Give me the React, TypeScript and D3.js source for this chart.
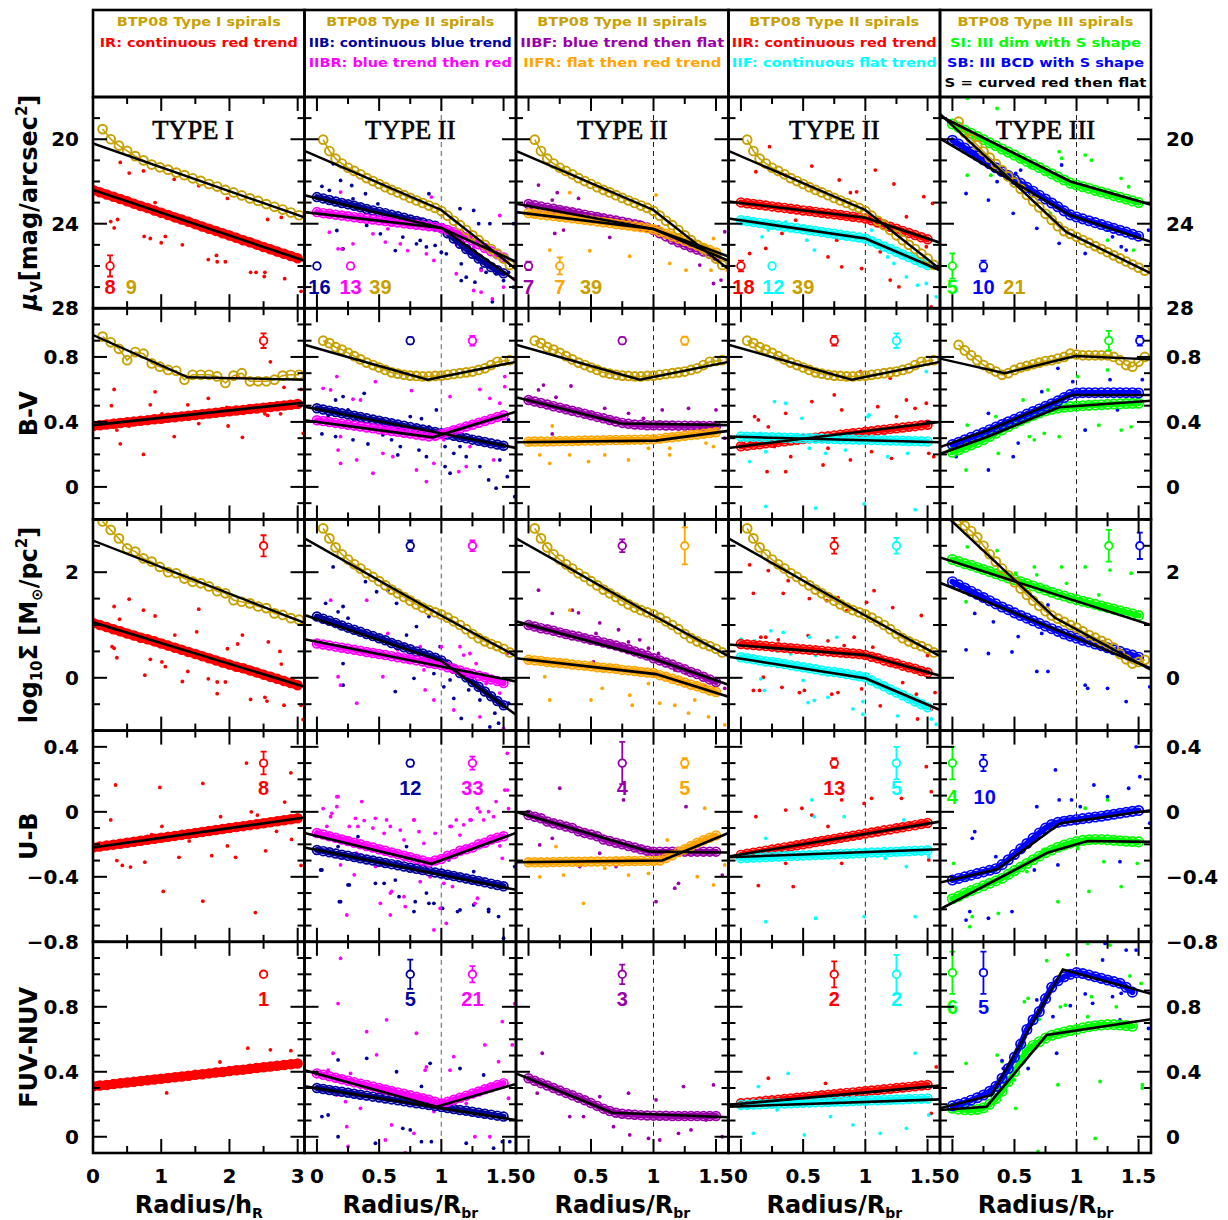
import React from 'react';
import * as d3 from 'd3';

type P = [number, number];

const RED = '#ff0000';
const NAVY = '#00009c';
const MAG = '#ff00ff';
const PURPLE = '#9a00aa';
const ORANGE = '#ffa500';
const CYAN = '#00ffff';
const GREEN = '#00ff00';
const BLUE = '#0000ff';
const GOLD = '#c8a000';

const W = 1228;
const H = 1220;
const colX = [93, 304.5, 516, 728.5, 940, 1151];
const rowY = [97, 308.2, 519.4, 730.6, 941.8, 1153];
const HEAD_TOP = 10;

const xDomI: [number, number] = [0, 3.1];
const xDomII: [number, number] = [-0.1, 1.6];
const yDoms: [number, number][] = [[28, 18], [-0.2, 1.1], [-1, 3], [-0.8, 0.5], [-0.1, 1.2]];
const yTickVals = [[20, 24, 28], [0, 0.4, 0.8], [0, 2], [-0.8, -0.4, 0, 0.4], [0, 0.4, 0.8]];
const yMinorStep = [1, 0.1, 0.5, 0.1, 0.1];
const xTicksI = [0, 1, 2, 3];
const xTicksII = [0, 0.5, 1, 1.5];

// radius grids of the profiles
const gridI = [0, 0.1, 0.2, 0.3, 0.4, 0.5, 0.6, 0.7, 0.8, 0.9, 1, 1.1, 1.2, 1.3, 1.4, 1.5, 1.6, 1.7, 1.8, 1.9, 2, 2.1, 2.2, 2.3, 2.4, 2.5, 2.6, 2.7, 2.8, 2.9, 3];
const gridGoldI = [0.14, 0.26, 0.38, 0.5, 0.62, 0.74, 0.86, 0.98, 1.1, 1.22, 1.34, 1.46, 1.58, 1.7, 1.82, 1.94, 2.06, 2.18, 2.3, 2.42, 2.54, 2.66, 2.78, 2.9, 3.02];
const gridII = [0, 0.05, 0.1, 0.15, 0.2, 0.25, 0.3, 0.35, 0.4, 0.45, 0.5, 0.55, 0.6, 0.65, 0.7, 0.75, 0.8, 0.85, 0.9, 0.95, 1, 1.05, 1.1, 1.15, 1.2, 1.25, 1.3, 1.35, 1.4, 1.45, 1.5];
const gridGold = [0.05, 0.1, 0.15, 0.2, 0.25, 0.3, 0.35, 0.4, 0.45, 0.5, 0.55, 0.6, 0.65, 0.7, 0.75, 0.8, 0.85, 0.9, 0.95, 1, 1.05, 1.1, 1.15, 1.2, 1.25, 1.3, 1.35, 1.4, 1.45, 1.5, 1.55];

// BTP08 mean profiles (gold)
const muGoldI = [19.52, 20.0, 20.3, 20.55, 20.8, 21.0, 21.2, 21.33, 21.44, 21.58, 21.7, 21.85, 21.97, 22.12, 22.24, 22.4, 22.52, 22.66, 22.8, 22.92, 23.07, 23.2, 23.33, 23.47, 23.6];
const bvGoldI = [0.925, 0.89, 0.85, 0.78, 0.83, 0.82, 0.76, 0.74, 0.72, 0.715, 0.66, 0.69, 0.69, 0.69, 0.68, 0.64, 0.685, 0.7, 0.65, 0.65, 0.65, 0.66, 0.685, 0.69, 0.69];
const sdGoldI = [2.96, 2.8, 2.64, 2.45, 2.39, 2.26, 2.2, 2.1, 2.0, 1.98, 1.88, 1.82, 1.79, 1.73, 1.64, 1.6, 1.47, 1.44, 1.41, 1.35, 1.32, 1.22, 1.19, 1.13, 1.1];
const muGoldII = [20.02, 20.56, 20.92, 21.15, 21.35, 21.5, 21.66, 21.84, 21.98, 22.12, 22.27, 22.4, 22.52, 22.65, 22.78, 22.9, 23.02, 23.14, 23.25, 23.4, 23.62, 23.86, 24.07, 24.3, 24.55, 24.78, 25.0, 25.2, 25.42, 25.65, 25.95];
const bvGoldII = [0.9, 0.885, 0.86, 0.845, 0.825, 0.805, 0.785, 0.765, 0.75, 0.735, 0.72, 0.705, 0.697, 0.69, 0.685, 0.683, 0.68, 0.68, 0.683, 0.685, 0.69, 0.695, 0.7, 0.705, 0.71, 0.72, 0.73, 0.75, 0.77, 0.775, 0.78];
const sdGoldII = [2.83, 2.64, 2.47, 2.34, 2.24, 2.15, 2.07, 1.98, 1.91, 1.83, 1.75, 1.67, 1.6, 1.53, 1.46, 1.39, 1.33, 1.28, 1.24, 1.2, 1.14, 1.07, 1.0, 0.92, 0.83, 0.75, 0.69, 0.64, 0.6, 0.55, 0.48];
const muGoldIII = [19.17, 19.69, 19.99, 20.28, 20.58, 20.87, 21.17, 21.46, 21.76, 22.05, 22.35, 22.64, 22.94, 23.23, 23.53, 23.82, 24.12, 24.35, 24.48, 24.62, 24.77, 24.91, 25.06, 25.2, 25.35, 25.5, 25.64, 25.79, 25.93, 26.08, 26.22];
const bvGoldIII = [0.874, 0.84, 0.81, 0.78, 0.75, 0.73, 0.71, 0.69, 0.7, 0.72, 0.735, 0.745, 0.755, 0.765, 0.775, 0.78, 0.79, 0.8, 0.82, 0.815, 0.81, 0.81, 0.81, 0.81, 0.81, 0.8, 0.78, 0.75, 0.74, 0.77, 0.8];
const sdGoldIII = [2.98, 2.88, 2.78, 2.66, 2.5, 2.34, 2.2, 2.07, 1.94, 1.81, 1.69, 1.57, 1.46, 1.36, 1.26, 1.18, 1.12, 1.06, 1.0, 0.95, 0.88, 0.81, 0.76, 0.7, 0.65, 0.57, 0.45, 0.35, 0.27, 0.3, 0.34];

const fitMuGoldI: P[] = [[0, 20.2], [3.1, 23.7]];
const fitBvGoldI: P[] = [[0, 0.935], [1.39, 0.675], [3.1, 0.66]];
const fitSdGoldI: P[] = [[0, 2.6], [3.1, 1.04]];
const fitMuGoldII: P[] = [[-0.1, 20.55], [1.0, 23.35], [1.6, 26.15]];
const fitBvGoldII: P[] = [[-0.1, 0.875], [0.89, 0.66], [1.6, 0.77]];
const fitSdGoldII: P[] = [[-0.1, 2.64], [0.99, 1.19], [1.6, 0.41]];
const fitMuGoldIII: P[] = [[-0.1, 18.8], [0.92, 24.4], [1.6, 26.35]];
const fitBvGoldIII: P[] = [[-0.1, 0.79], [0.42, 0.7], [0.99, 0.806], [1.6, 0.785]];
const fitSdGoldIII: P[] = [[-0.02, 3.0], [0.83, 1.13], [1.6, 0.15]];

// Type I (IR) profiles
const muIR = [22.4, 22.51, 22.62, 22.72, 22.83, 22.94, 23.05, 23.16, 23.26, 23.37, 23.48, 23.59, 23.7, 23.8, 23.91, 24.02, 24.13, 24.24, 24.34, 24.45, 24.56, 24.67, 24.78, 24.88, 24.99, 25.1, 25.21, 25.32, 25.42, 25.53, 25.64];
const bvIR = [0.375, 0.38, 0.384, 0.389, 0.393, 0.398, 0.402, 0.407, 0.411, 0.416, 0.42, 0.425, 0.429, 0.434, 0.438, 0.443, 0.447, 0.452, 0.456, 0.461, 0.465, 0.47, 0.474, 0.479, 0.483, 0.488, 0.492, 0.497, 0.501, 0.506, 0.51];
const sdIR = [1.04, 1.0, 0.96, 0.92, 0.88, 0.84, 0.8, 0.76, 0.73, 0.69, 0.65, 0.61, 0.57, 0.53, 0.49, 0.45, 0.41, 0.37, 0.33, 0.29, 0.25, 0.21, 0.18, 0.14, 0.1, 0.06, 0.02, -0.02, -0.06, -0.1, -0.14];
const ubIR = [-0.22, -0.214, -0.208, -0.202, -0.196, -0.19, -0.184, -0.178, -0.172, -0.166, -0.16, -0.154, -0.148, -0.142, -0.136, -0.13, -0.124, -0.118, -0.112, -0.106, -0.1, -0.094, -0.088, -0.082, -0.076, -0.07, -0.064, -0.058, -0.052, -0.046, -0.04];
const fnIR = [0.31, 0.315, 0.319, 0.324, 0.329, 0.334, 0.338, 0.343, 0.348, 0.352, 0.357, 0.362, 0.366, 0.371, 0.376, 0.381, 0.385, 0.39, 0.395, 0.399, 0.404, 0.409, 0.413, 0.418, 0.423, 0.428, 0.432, 0.437, 0.442, 0.446, 0.451];
const fitMuIR: P[] = [[0, 22.4], [3.1, 25.75]];
const fitBvIR: P[] = [[0, 0.38], [3.1, 0.52]];
const fitSdIR: P[] = [[0, 1.05], [3.1, -0.17]];
const fitUbIR: P[] = [[0, -0.22], [3.1, -0.035]];

// Type II / III profiles (radius / R_br)
const muIIB = [22.74, 22.8, 22.88, 22.95, 23.02, 23.08, 23.15, 23.22, 23.3, 23.37, 23.44, 23.5, 23.58, 23.65, 23.72, 23.8, 23.87, 23.94, 24.02, 24.1, 24.2, 24.45, 24.7, 24.95, 25.2, 25.42, 25.65, 25.85, 26.05, 26.2, 26.35];
const muIIBR = [23.45, 23.5, 23.53, 23.57, 23.61, 23.65, 23.69, 23.73, 23.77, 23.8, 23.84, 23.87, 23.91, 23.94, 23.98, 24.01, 24.05, 24.08, 24.12, 24.15, 24.2, 24.3, 24.4, 24.5, 24.65, 24.8, 24.97, 25.15, 25.3, 25.45, 25.6];
const muIIBF = [23.07, 23.13, 23.18, 23.24, 23.29, 23.35, 23.41, 23.46, 23.52, 23.57, 23.63, 23.68, 23.74, 23.8, 23.85, 23.91, 23.97, 24.03, 24.1, 24.18, 24.3, 24.45, 24.6, 24.75, 24.88, 25.0, 25.12, 25.22, 25.32, 25.42, 25.52];
const muIIFR = [23.5, 23.53, 23.57, 23.6, 23.64, 23.67, 23.71, 23.74, 23.78, 23.81, 23.85, 23.89, 23.93, 23.97, 24.01, 24.05, 24.09, 24.13, 24.17, 24.21, 24.26, 24.37, 24.48, 24.59, 24.7, 24.81, 24.92, 25.03, 25.14, 25.25, 25.36];
const muIIR = [22.99, 23.03, 23.07, 23.1, 23.14, 23.18, 23.22, 23.25, 23.29, 23.33, 23.37, 23.4, 23.44, 23.48, 23.52, 23.55, 23.59, 23.63, 23.67, 23.7, 23.75, 23.84, 23.94, 24.04, 24.14, 24.24, 24.34, 24.44, 24.54, 24.64, 24.74];
const muIIF = [23.83, 23.87, 23.92, 23.96, 24.0, 24.05, 24.09, 24.13, 24.18, 24.22, 24.26, 24.31, 24.35, 24.39, 24.44, 24.48, 24.52, 24.57, 24.61, 24.65, 24.7, 24.83, 24.95, 25.08, 25.2, 25.33, 25.46, 25.58, 25.71, 25.84, 25.96];
const muSI = [19.28, 19.43, 19.58, 19.72, 19.87, 20.02, 20.17, 20.31, 20.46, 20.61, 20.75, 20.9, 21.05, 21.2, 21.34, 21.49, 21.64, 21.78, 21.93, 22.08, 22.17, 22.25, 22.33, 22.42, 22.5, 22.58, 22.67, 22.75, 22.83, 22.92, 23.0];
const muSB = [20.05, 20.23, 20.42, 20.6, 20.79, 20.98, 21.16, 21.35, 21.53, 21.72, 21.9, 22.09, 22.28, 22.46, 22.65, 22.83, 23.02, 23.2, 23.39, 23.58, 23.68, 23.77, 23.86, 23.95, 24.04, 24.13, 24.22, 24.31, 24.4, 24.5, 24.59];

const bvIIB = [0.484, 0.476, 0.469, 0.461, 0.453, 0.446, 0.438, 0.43, 0.422, 0.415, 0.407, 0.399, 0.392, 0.384, 0.376, 0.368, 0.361, 0.353, 0.345, 0.338, 0.33, 0.322, 0.315, 0.307, 0.299, 0.291, 0.284, 0.276, 0.268, 0.261, 0.253];
const bvIIBR = [0.41, 0.405, 0.399, 0.394, 0.388, 0.383, 0.377, 0.372, 0.366, 0.361, 0.355, 0.35, 0.344, 0.339, 0.333, 0.328, 0.322, 0.316, 0.311, 0.315, 0.326, 0.337, 0.349, 0.36, 0.372, 0.383, 0.395, 0.406, 0.418, 0.43, 0.441];
const bvIIBF = [0.535, 0.525, 0.516, 0.507, 0.497, 0.488, 0.478, 0.469, 0.46, 0.45, 0.441, 0.431, 0.422, 0.412, 0.403, 0.394, 0.388, 0.384, 0.382, 0.38, 0.38, 0.379, 0.378, 0.378, 0.377, 0.377, 0.376, 0.376, 0.375, 0.375, 0.375];
const bvIIFR = [0.278, 0.279, 0.279, 0.28, 0.281, 0.282, 0.282, 0.283, 0.284, 0.285, 0.285, 0.286, 0.287, 0.288, 0.288, 0.289, 0.29, 0.291, 0.291, 0.292, 0.293, 0.297, 0.302, 0.306, 0.31, 0.315, 0.319, 0.323, 0.327, 0.332, 0.336];
const bvIIR = [0.25, 0.254, 0.259, 0.263, 0.268, 0.272, 0.277, 0.281, 0.286, 0.29, 0.295, 0.299, 0.303, 0.308, 0.312, 0.317, 0.321, 0.326, 0.33, 0.334, 0.339, 0.343, 0.348, 0.352, 0.357, 0.361, 0.365, 0.37, 0.374, 0.379, 0.383];
const bvIIF = [0.31, 0.309, 0.308, 0.307, 0.306, 0.305, 0.304, 0.303, 0.302, 0.301, 0.3, 0.299, 0.298, 0.297, 0.296, 0.295, 0.294, 0.293, 0.292, 0.291, 0.29, 0.289, 0.288, 0.287, 0.286, 0.285, 0.284, 0.283, 0.282, 0.281, 0.28];
const bvSI = [0.213, 0.228, 0.243, 0.258, 0.273, 0.29, 0.31, 0.33, 0.352, 0.372, 0.39, 0.408, 0.425, 0.44, 0.455, 0.468, 0.478, 0.485, 0.49, 0.494, 0.497, 0.5, 0.502, 0.504, 0.506, 0.508, 0.51, 0.511, 0.513, 0.514, 0.515];
const bvSB = [0.26, 0.275, 0.29, 0.305, 0.32, 0.335, 0.352, 0.368, 0.384, 0.4, 0.416, 0.432, 0.448, 0.464, 0.48, 0.496, 0.512, 0.53, 0.55, 0.568, 0.578, 0.58, 0.58, 0.58, 0.58, 0.58, 0.58, 0.58, 0.58, 0.58, 0.578];

const sdIIB = [1.16, 1.12, 1.08, 1.04, 0.99, 0.95, 0.91, 0.87, 0.83, 0.79, 0.75, 0.71, 0.66, 0.62, 0.58, 0.54, 0.5, 0.46, 0.42, 0.38, 0.33, 0.25, 0.17, 0.09, 0.01, -0.08, -0.17, -0.26, -0.35, -0.44, -0.52];
const sdIIBR = [0.65, 0.63, 0.61, 0.59, 0.57, 0.55, 0.53, 0.51, 0.49, 0.47, 0.45, 0.43, 0.41, 0.39, 0.37, 0.35, 0.33, 0.31, 0.28, 0.26, 0.24, 0.2, 0.17, 0.14, 0.1, 0.07, 0.04, 0.01, -0.03, -0.06, -0.1];
const sdIIBF = [1.0, 0.97, 0.94, 0.92, 0.89, 0.86, 0.83, 0.8, 0.78, 0.75, 0.72, 0.7, 0.67, 0.64, 0.61, 0.58, 0.54, 0.5, 0.46, 0.42, 0.37, 0.33, 0.29, 0.25, 0.2, 0.16, 0.11, 0.07, 0.02, -0.03, -0.08];
const sdIIFR = [0.34, 0.33, 0.32, 0.3, 0.29, 0.28, 0.27, 0.25, 0.24, 0.23, 0.22, 0.2, 0.19, 0.18, 0.17, 0.15, 0.14, 0.13, 0.11, 0.1, 0.09, 0.05, 0.02, -0.02, -0.05, -0.09, -0.13, -0.16, -0.2, -0.24, -0.27];
const sdIIR = [0.64, 0.63, 0.62, 0.61, 0.6, 0.59, 0.58, 0.57, 0.56, 0.55, 0.54, 0.53, 0.52, 0.51, 0.5, 0.49, 0.48, 0.47, 0.46, 0.45, 0.43, 0.4, 0.37, 0.33, 0.3, 0.27, 0.23, 0.2, 0.17, 0.13, 0.1];
const sdIIF = [0.39, 0.37, 0.35, 0.33, 0.31, 0.3, 0.28, 0.26, 0.24, 0.22, 0.2, 0.18, 0.16, 0.14, 0.12, 0.11, 0.09, 0.07, 0.05, 0.03, 0.01, -0.05, -0.11, -0.16, -0.22, -0.28, -0.33, -0.39, -0.45, -0.5, -0.56];
const sdSI = [2.24, 2.2, 2.16, 2.13, 2.09, 2.05, 2.01, 1.97, 1.93, 1.89, 1.86, 1.82, 1.78, 1.74, 1.7, 1.66, 1.62, 1.58, 1.55, 1.51, 1.48, 1.45, 1.42, 1.39, 1.36, 1.33, 1.3, 1.27, 1.24, 1.21, 1.18];
const sdSB = [1.82, 1.76, 1.7, 1.64, 1.58, 1.52, 1.46, 1.4, 1.34, 1.29, 1.23, 1.18, 1.13, 1.08, 1.03, 0.98, 0.93, 0.88, 0.83, 0.79, 0.75, 0.71, 0.68, 0.64, 0.61, 0.57, 0.53, 0.5, 0.46, 0.43, 0.39];

const ubIIB = [-0.235, -0.242, -0.249, -0.257, -0.264, -0.271, -0.278, -0.286, -0.293, -0.3, -0.307, -0.315, -0.322, -0.329, -0.336, -0.344, -0.351, -0.358, -0.365, -0.373, -0.38, -0.387, -0.395, -0.403, -0.41, -0.418, -0.426, -0.434, -0.442, -0.45, -0.458];
const ubIIBR = [-0.13, -0.14, -0.15, -0.16, -0.17, -0.18, -0.19, -0.2, -0.21, -0.22, -0.23, -0.24, -0.25, -0.26, -0.27, -0.28, -0.29, -0.3, -0.31, -0.3, -0.29, -0.27, -0.26, -0.24, -0.23, -0.22, -0.2, -0.19, -0.17, -0.16, -0.15];
const ubIIBF = [-0.02, -0.03, -0.04, -0.06, -0.07, -0.08, -0.09, -0.1, -0.12, -0.13, -0.14, -0.15, -0.17, -0.18, -0.19, -0.2, -0.21, -0.22, -0.23, -0.24, -0.245, -0.245, -0.245, -0.245, -0.245, -0.245, -0.245, -0.245, -0.245, -0.245, -0.245];
const ubIIFR = [-0.31, -0.31, -0.31, -0.31, -0.309, -0.309, -0.308, -0.308, -0.307, -0.307, -0.306, -0.306, -0.305, -0.305, -0.304, -0.304, -0.303, -0.303, -0.302, -0.302, -0.301, -0.3, -0.285, -0.267, -0.248, -0.23, -0.21, -0.19, -0.175, -0.16, -0.145];
const ubIIR = [-0.265, -0.258, -0.252, -0.245, -0.239, -0.232, -0.226, -0.219, -0.213, -0.206, -0.2, -0.193, -0.186, -0.18, -0.173, -0.167, -0.16, -0.154, -0.147, -0.141, -0.134, -0.127, -0.121, -0.114, -0.108, -0.101, -0.095, -0.088, -0.082, -0.075, -0.069];
const ubIIF = [-0.285, -0.283, -0.282, -0.28, -0.279, -0.277, -0.275, -0.274, -0.272, -0.271, -0.269, -0.267, -0.266, -0.264, -0.263, -0.261, -0.259, -0.258, -0.256, -0.255, -0.253, -0.251, -0.25, -0.248, -0.247, -0.245, -0.243, -0.242, -0.24, -0.239, -0.237];
const ubSI = [-0.535, -0.52, -0.5, -0.485, -0.47, -0.455, -0.44, -0.425, -0.41, -0.385, -0.362, -0.34, -0.318, -0.295, -0.273, -0.252, -0.235, -0.218, -0.205, -0.193, -0.183, -0.176, -0.172, -0.17, -0.17, -0.172, -0.175, -0.178, -0.181, -0.183, -0.185];
const ubSB = [-0.42, -0.41, -0.4, -0.39, -0.38, -0.37, -0.36, -0.35, -0.325, -0.295, -0.262, -0.228, -0.195, -0.162, -0.13, -0.1, -0.078, -0.065, -0.058, -0.052, -0.047, -0.042, -0.037, -0.032, -0.027, -0.021, -0.015, -0.009, -0.003, 0.003, 0.008];

const fnIIB = [0.3, 0.294, 0.288, 0.282, 0.277, 0.271, 0.265, 0.259, 0.253, 0.247, 0.242, 0.236, 0.23, 0.224, 0.218, 0.212, 0.206, 0.201, 0.195, 0.189, 0.183, 0.177, 0.171, 0.165, 0.16, 0.154, 0.148, 0.142, 0.136, 0.13, 0.124];
const fnIIBR = [0.39, 0.381, 0.372, 0.363, 0.354, 0.345, 0.336, 0.327, 0.318, 0.309, 0.3, 0.291, 0.282, 0.273, 0.264, 0.255, 0.246, 0.237, 0.228, 0.215, 0.205, 0.215, 0.228, 0.24, 0.253, 0.266, 0.279, 0.292, 0.305, 0.318, 0.33];
const fnIIBF = [0.36, 0.345, 0.33, 0.315, 0.3, 0.285, 0.27, 0.255, 0.24, 0.225, 0.207, 0.19, 0.173, 0.158, 0.148, 0.142, 0.138, 0.135, 0.133, 0.131, 0.13, 0.129, 0.129, 0.128, 0.128, 0.128, 0.128, 0.128, 0.128, 0.128, 0.128];
const fnIIR = [0.206, 0.21, 0.213, 0.217, 0.221, 0.225, 0.228, 0.232, 0.236, 0.24, 0.243, 0.247, 0.251, 0.255, 0.258, 0.262, 0.266, 0.27, 0.273, 0.277, 0.281, 0.285, 0.288, 0.292, 0.296, 0.3, 0.303, 0.307, 0.311, 0.315, 0.318];
const fnIIF = [0.196, 0.197, 0.199, 0.2, 0.201, 0.203, 0.204, 0.205, 0.206, 0.208, 0.209, 0.21, 0.212, 0.213, 0.214, 0.216, 0.217, 0.218, 0.22, 0.221, 0.222, 0.224, 0.225, 0.226, 0.228, 0.229, 0.23, 0.232, 0.233, 0.234, 0.236];
const fnSI = [0.175, 0.17, 0.166, 0.165, 0.168, 0.178, 0.2, 0.235, 0.28, 0.34, 0.4, 0.47, 0.534, 0.562, 0.585, 0.607, 0.625, 0.635, 0.645, 0.654, 0.66, 0.67, 0.678, 0.683, 0.688, 0.69, 0.69, 0.688, 0.684, 0.68];
const fnSB = [0.19, 0.2, 0.21, 0.225, 0.24, 0.257, 0.28, 0.31, 0.36, 0.42, 0.49, 0.57, 0.66, 0.72, 0.77, 0.85, 0.92, 0.96, 0.985, 1.0, 1.01, 1.005, 0.995, 0.985, 0.975, 0.965, 0.955, 0.945, 0.92, 0.89];

// broken-line fits
const fitMuIIB: P[] = [[-0.1, 22.65], [1.0, 24.2], [1.6, 26.7]];
const fitMuIIBR: P[] = [[-0.1, 23.45], [1.0, 24.2], [1.6, 25.8]];
const fitMuIIBF: P[] = [[-0.1, 23.05], [1.0, 24.25], [1.6, 25.75]];
const fitMuIIFR: P[] = [[-0.1, 23.45], [1.0, 24.25], [1.6, 25.55]];
const fitMuIIR: P[] = [[-0.1, 22.95], [1.0, 23.72], [1.6, 24.9]];
const fitMuIIF: P[] = [[-0.1, 23.75], [1.0, 24.7], [1.6, 26.2]];
const fitMuSI: P[] = [[-0.1, 18.9], [0.95, 22.0], [1.6, 23.1]];
const fitMuSB: P[] = [[-0.1, 19.96], [0.95, 23.6], [1.6, 24.86]];
const fitBvIIB: P[] = [[-0.1, 0.494], [1.6, 0.24]];
const fitBvIIBR: P[] = [[-0.1, 0.41], [0.93, 0.305], [1.6, 0.463]];
const fitBvIIBF: P[] = [[-0.1, 0.552], [0.74, 0.39], [1.6, 0.38]];
const fitBvIIFR: P[] = [[-0.1, 0.275], [1.02, 0.285], [1.6, 0.345]];
const fitBvIIR: P[] = [[-0.1, 0.24], [1.6, 0.4]];
const fitBvIIF: P[] = [[-0.1, 0.31], [1.6, 0.275]];
const fitBvSI: P[] = [[-0.1, 0.203], [0.29, 0.31], [0.86, 0.49], [1.6, 0.53]];
const fitBvSB: P[] = [[-0.1, 0.245], [0.29, 0.35], [0.96, 0.566], [1.6, 0.566]];
const fitSdIIB: P[] = [[-0.1, 1.19], [1.0, 0.32], [1.6, -0.7]];
const fitSdIIBR: P[] = [[-0.1, 0.73], [1.6, -0.07]];
const fitSdIIBF: P[] = [[-0.1, 1.07], [1.0, 0.36], [1.6, -0.13]];
const fitSdIIFR: P[] = [[-0.1, 0.37], [1.02, 0.07], [1.6, -0.36]];
const fitSdIIR: P[] = [[-0.1, 0.63], [1.0, 0.43], [1.6, 0.04]];
const fitSdIIF: P[] = [[-0.1, 0.4], [1.0, -0.01], [1.6, -0.61]];
const fitSdSI: P[] = [[-0.1, 2.28], [1.6, 1.0]];
const fitSdSB: P[] = [[-0.1, 1.8], [1.6, 0.18]];
const fitUbIIB: P[] = [[-0.1, -0.22], [1.6, -0.48]];
const fitUbIIBR: P[] = [[-0.1, -0.13], [0.92, -0.32], [1.6, -0.13]];
const fitUbIIBF: P[] = [[-0.1, 0.0], [0.97, -0.245], [1.6, -0.25]];
const fitUbIIFR: P[] = [[-0.1, -0.31], [1.07, -0.3], [1.6, -0.13]];
const fitUbIIR: P[] = [[-0.1, -0.275], [1.6, -0.06]];
const fitUbIIF: P[] = [[-0.1, -0.28], [1.6, -0.23]];
const fitUbSI: P[] = [[-0.1, -0.6], [0.77, -0.25], [1.09, -0.18], [1.6, -0.185]];
const fitUbSB: P[] = [[-0.1, -0.435], [0.36, -0.354], [0.87, -0.07], [1.6, 0.01]];
const fitFnIIB: P[] = [[-0.1, 0.31], [1.6, 0.103]];
const fitFnIIBR: P[] = [[-0.1, 0.41], [0.96, 0.185], [1.6, 0.325]];
const fitFnIIBF: P[] = [[-0.1, 0.39], [0.67, 0.148], [1.6, 0.12]];
const fitFnIIR: P[] = [[-0.1, 0.196], [1.6, 0.315]];
const fitFnIIF: P[] = [[-0.1, 0.185], [1.6, 0.23]];
const fitFnSI: P[] = [[-0.1, 0.165], [0.275, 0.185], [0.76, 0.627], [1.6, 0.723]];
const fitFnSB: P[] = [[-0.1, 0.175], [0.315, 0.257], [0.89, 1.03], [1.6, 0.88]];

// individual galaxy points
const dMuIR: P[] = [[0.4, 21.1], [0.53, 21.6], [0.74, 21.5], [1.19, 21.9], [1.55, 22.2], [1.97, 22.8], [0.26, 23.9], [0.31, 24.2], [0.36, 23.8], [0.91, 23.0], [0.75, 24.6], [0.84, 24.7], [1.0, 24.9], [1.06, 24.6], [1.31, 25.0], [1.69, 25.7], [1.81, 25.5], [1.82, 25.8], [1.94, 25.8], [2.31, 26.3], [2.39, 26.3], [2.52, 26.3], [2.51, 26.5], [2.56, 23.8], [2.76, 23.7], [2.81, 26.6], [3.05, 27.2]];
const dMuIIB: P[] = [[0.13, 21.16], [0.19, 21.95], [0.04, 22.23], [0.1, 22.42], [0.28, 22.19], [0.29, 22.82], [0.39, 22.58], [0.49, 23.06], [0.16, 24.32], [0.21, 25.19], [0.63, 25.27], [0.69, 24.63], [0.8, 24.95], [0.9, 22.58], [0.88, 25.1], [0.95, 25.03], [1.0, 25.35], [1.04, 25.43], [1.15, 23.29], [1.26, 23.37], [1.3, 24.0], [1.39, 24.0], [1.58, 24.0], [1.16, 25.9], [1.2, 26.53], [1.16, 26.69], [1.27, 26.77], [1.32, 26.14], [1.36, 26.3], [1.44, 26.37], [1.5, 26.69], [1.54, 26.3], [1.58, 27.0], [1.41, 27.7], [0.99, 24.32], [0.51, 24.48], [0.75, 23.85], [0.4, 24.08], [0.83, 24.79]];
const dMuIIBR: P[] = [[0.19, 22.5], [0.1, 24.4], [0.17, 25.19], [0.2, 25.2], [0.45, 24.48], [0.55, 24.87], [0.73, 25.27], [0.75, 23.97], [0.83, 23.77], [0.92, 22.74], [0.94, 25.74], [1.12, 24.95], [1.26, 25.11], [1.32, 26.21], [1.47, 23.61], [1.12, 26.37], [1.26, 27.16], [1.32, 27.24], [1.41, 27.56], [1.5, 27.0], [1.58, 26.6], [0.57, 24.24], [0.67, 24.95], [0.88, 25.43], [0.29, 24.95]];
const dMuIIBF: P[] = [[0.08, 22.17], [0.23, 22.53], [0.4, 22.8], [0.21, 24.46], [0.28, 24.3], [0.65, 24.65], [0.89, 23.91], [1.04, 24.15], [1.37, 25.96], [1.48, 26.83], [1.54, 26.67], [1.57, 24.38], [0.19, 22.88]];
const dMuIIFR: P[] = [[0.33, 22.53], [0.17, 25.25], [0.49, 25.28], [0.81, 25.54], [1.02, 22.64], [1.13, 25.88], [1.26, 26.2], [1.46, 26.2], [1.51, 25.8], [1.48, 24.7], [1.59, 26.2], [0.92, 24.14]];
const dMuIIR: P[] = [[0.23, 20.35], [0.12, 21.54], [0.36, 21.7], [0.57, 21.27], [0.57, 22.38], [0.79, 21.93], [0.88, 22.53], [0.93, 22.49], [1.08, 21.46], [1.23, 22.12], [1.47, 22.72], [1.54, 23.04], [0.07, 25.41], [0.2, 25.17], [0.7, 25.57], [0.81, 26.04], [0.97, 26.12], [1.12, 25.33], [1.2, 26.67], [1.27, 26.99], [1.4, 25.73], [1.49, 25.09], [1.53, 27.94], [0.77, 24.78], [0.44, 23.83], [0.33, 24.46], [1.33, 23.67]];
const dMuIIF: P[] = [[0.17, 24.62], [0.22, 24.3], [0.53, 24.78], [0.59, 25.25], [1.05, 24.3], [1.23, 25.88], [1.33, 26.52], [1.42, 26.91], [1.01, 24.78], [1.18, 25.57], [1.49, 26.83], [1.57, 27.46], [0.36, 23.91]];
const dMuSI: P[] = [[0.12, 18.06], [0.36, 18.54], [0.12, 21.7], [0.31, 21.7], [0.62, 21.3], [0.86, 20.59], [0.88, 20.9], [1.07, 20.75], [1.12, 20.99], [1.36, 21.85], [1.42, 22.25], [1.6, 22.64], [0.79, 23.51], [1.25, 24.3], [1.25, 24.78], [1.46, 25.25], [0.97, 22.01]];
const dMuSB: P[] = [[0.11, 22.57], [0.29, 22.88], [0.49, 23.51], [0.51, 21.62], [0.55, 21.46], [0.68, 24.22], [0.86, 24.93], [1.07, 25.41], [1.29, 24.62], [1.36, 25.09], [1.4, 25.25], [1.58, 24.3], [1.6, 25.88], [0.88, 21.22], [0.36, 22.01]];

const dBvIR: P[] = [[0.31, 0.6], [0.27, 0.5], [0.31, 0.41], [0.35, 0.35], [0.4, 0.265], [0.53, 0.375], [0.74, 0.2], [0.84, 0.505], [0.91, 0.585], [1.01, 0.45], [1.19, 0.31], [1.39, 0.505], [1.55, 0.39], [1.69, 0.545], [1.96, 0.49], [1.98, 0.375], [2.12, 0.68], [2.19, 0.305], [2.52, 0.45], [2.56, 0.44], [2.6, 0.77], [2.75, 0.45], [2.8, 0.613], [3.05, 0.6], [3.08, 0.33]];
const dBvIIB: P[] = [[0.04, 0.326], [0.09, 0.437], [0.15, 0.535], [0.21, 0.556], [0.25, 0.474], [0.38, 0.576], [0.15, 0.31], [0.29, 0.29], [0.41, 0.264], [0.53, 0.32], [0.6, 0.29], [0.67, 0.248], [0.75, 0.433], [0.84, 0.42], [0.9, 0.37], [0.88, 0.186], [0.96, 0.474], [1.03, 0.248], [1.1, 0.207], [1.15, 0.248], [1.2, 0.186], [1.24, 0.31], [1.31, 0.125], [1.38, 0.043], [1.44, -0.008], [1.53, 0.063], [1.47, 0.166], [1.54, 0.412], [1.03, 0.125], [1.07, 0.084], [0.65, 0.197], [0.82, 0.227], [1.59, -0.06]];
const dBvIIBR: P[] = [[0.05, 0.607], [0.11, 0.597], [0.16, 0.679], [0.29, 0.54], [0.35, 0.535], [0.19, 0.31], [0.17, 0.227], [0.19, 0.145], [0.32, 0.166], [0.45, 0.084], [0.47, 0.648], [0.53, 0.207], [0.61, 0.186], [0.76, 0.593], [0.8, 0.104], [0.88, 0.033], [0.94, 0.145], [1.07, 0.556], [1.14, 0.094], [1.2, 0.125], [1.31, 0.6], [1.39, 0.545], [1.47, 0.515], [1.51, 0.617], [1.51, 0.679], [1.23, 0.248], [1.42, 0.166], [1.02, 0.29]];
const dBvIIBF: P[] = [[0.08, 0.597], [0.12, 0.627], [0.34, 0.621], [0.22, 0.552], [0.19, 0.326], [0.61, 0.484], [0.8, 0.453], [0.92, 0.422], [1.07, 0.474], [1.28, 0.484], [1.5, 0.474], [1.37, 0.392], [1.57, 0.3]];
const dBvIIFR: P[] = [[0.09, 0.197], [0.17, 0.145], [0.33, 0.197], [0.48, 0.156], [0.61, 0.197], [0.8, 0.166], [0.96, 0.238], [1.13, 0.197], [1.13, 0.238], [0.19, 0.375], [1.48, 0.248], [1.42, 0.27]];
const dBvIIR: P[] = [[0.11, 0.433], [0.14, 0.412], [0.22, 0.37], [0.27, 0.248], [0.21, 0.094], [0.36, 0.094], [0.36, 0.453], [0.4, 0.186], [0.51, 0.29], [0.57, 0.525], [0.66, 0.135], [0.75, 0.566], [0.81, 0.474], [0.88, 0.166], [0.96, 0.71], [1.05, 0.217], [1.1, 0.494], [1.2, 0.669], [1.25, 0.433], [1.33, 0.535], [1.4, 0.484], [1.49, 0.515], [1.51, 0.207], [1.55, 0.186], [1.21, 0.176], [0.7, 0.238]];
const dBvIIF: P[] = [[0.07, 0.156], [0.2, 0.217], [0.27, 0.525], [0.36, 0.515], [0.49, 0.422], [0.55, 0.238], [0.68, 0.207], [0.84, 0.227], [1.02, 0.433], [1.03, 0.443], [1.18, 0.186], [1.34, 0.207], [1.49, 0.71], [0.2, -0.12], [0.6, -0.13], [0.99, -0.105], [1.4, -0.14], [0.16, 0.33]];
const dBvSI: P[] = [[0.11, 0.104], [0.12, 0.38], [0.35, 0.433], [0.37, 0.207], [0.57, 0.535], [0.62, 0.31], [0.66, 0.29], [0.74, 0.33], [0.86, 0.31], [1.01, 0.679], [1.07, 0.35], [1.18, 0.38], [1.25, 0.72], [1.36, 0.35], [1.44, 0.37], [1.6, 0.38], [0.77, 0.597]];
const dBvSB: P[] = [[0.03, 0.186], [0.29, 0.104], [0.29, 0.453], [0.42, 0.412], [0.49, 0.186], [0.53, 0.27], [0.72, 0.586], [0.85, 0.73], [0.97, 0.648], [1.07, 0.35], [1.27, 0.66], [1.33, 0.474], [1.53, 0.66]];

const dSdIR: P[] = [[0.31, 1.35], [0.39, 1.11], [0.53, 1.49], [0.74, 1.28], [0.91, 1.17], [1.55, 1.3], [1.52, 0.87], [1.2, 0.81], [0.28, 0.59], [0.31, 0.56], [0.35, 0.38], [0.84, 0.35], [1.01, 0.3], [1.06, 0.21], [0.76, 0.05], [1.31, -0.07], [1.39, 0.12], [1.69, -0.02], [1.82, -0.08], [1.82, -0.3], [1.94, -0.08], [1.97, 0.55], [2.12, 0.64], [2.19, 0.81], [2.31, -0.41], [2.52, -0.37], [2.55, -0.44], [2.57, 0.68], [2.74, 0.5], [2.76, 0.26], [2.8, -0.52], [3.05, -0.52], [3.08, -0.79]];
const dSdIIB: P[] = [[0.13, 2.1], [0.21, 1.35], [0.07, 1.41], [0.17, 1.25], [0.25, 1.13], [0.39, 1.82], [0.48, 1.63], [0.57, 1.66], [0.64, 1.41], [0.72, 0.81], [0.8, 0.97], [0.9, 1.16], [0.94, 0.08], [1.02, -0.17], [1.07, -0.04], [1.1, -0.39], [1.16, -0.77], [1.22, -0.23], [1.31, -0.42], [1.39, -0.93], [1.46, -0.86], [1.43, -0.67], [1.54, -0.48], [0.21, -0.14], [0.63, -0.26], [0.78, -0.01], [0.21, 0.27], [0.86, 0.3], [0.99, 0.59]];
const dSdIIBR: P[] = [[0.11, 1.47], [0.17, 0.02], [0.19, -0.14], [0.32, -0.48], [0.4, 1.47], [0.45, 0.46], [0.53, 0.02], [0.57, 0.84], [0.65, 0.53], [0.73, 0.3], [0.83, 0.59], [0.86, 0.15], [0.94, -0.42], [1.0, 0.59], [1.15, 0.59], [1.18, 0.43], [1.23, 0.46], [1.28, 0.27], [1.36, -0.11], [1.47, -0.29], [1.5, -0.96], [1.53, 0.46], [1.31, -0.74], [0.87, -0.23], [1.1, -0.61]];
const dSdIIBF: P[] = [[0.08, 1.66], [0.19, 1.22], [0.35, 1.28], [0.4, 1.23], [0.57, 1.04], [0.54, 0.84], [0.72, 0.91], [0.8, 0.68], [0.89, 0.72], [0.96, 0.56], [1.04, 0.46], [1.17, 0.15], [1.26, 0.08], [1.41, -0.17], [1.5, -0.04], [1.57, -0.2], [0.52, 0.3]];
const dSdIIFR: P[] = [[0.13, 0.02], [0.17, -0.42], [0.33, 1.28], [0.5, -0.42], [0.59, -0.2], [0.81, -0.33], [0.83, -0.52], [0.96, -0.11], [1.05, -0.48], [1.17, -0.52], [1.28, -0.67], [1.44, -0.74], [1.57, -0.89], [1.33, -0.42]];
const dSdIIR: P[] = [[0.07, 2.14], [0.22, 2.03], [0.1, 1.6], [0.34, 1.6], [0.38, 1.84], [0.55, 1.5], [0.69, 1.46], [0.78, 1.52], [0.85, 1.27], [1.01, 1.43], [1.07, 1.65], [1.22, 1.33], [1.45, 1.18], [0.16, 0.77], [0.2, 0.77], [0.3, 0.72], [0.54, 0.8], [0.7, 0.7], [0.83, 0.61], [0.91, 0.77], [1.06, 0.58], [1.21, 0.23], [1.3, -0.09], [1.41, -0.31], [1.5, 0.42], [1.56, -0.28], [0.1, -0.24], [0.15, -0.24], [0.18, 0.01], [0.33, -0.18], [0.47, -0.28], [0.51, -0.24], [0.73, -0.31], [0.78, -0.28], [0.97, -0.21], [1.12, -0.53], [1.42, -0.78], [1.53, -0.59]];
const dSdIIF: P[] = [[0.0, 0.73], [0.11, 0.7], [0.24, 0.89], [0.34, 0.86], [0.55, 0.77], [0.77, 0.77], [0.29, 0.51], [0.4, 0.45], [0.6, 0.42], [0.16, -0.02], [0.19, -0.24], [0.5, -0.05], [0.54, -0.47], [0.59, -0.43], [0.7, -0.37], [0.9, -0.59], [0.98, -0.45], [0.98, -0.69], [1.26, -0.72], [1.36, -0.37], [1.53, -0.78], [1.57, -0.88]];
const dSdSI: P[] = [[0.12, 2.48], [0.36, 2.41], [0.11, 1.44], [0.66, 2.1], [0.68, 1.95], [0.88, 2.1], [0.92, 1.79], [1.07, 2.1], [1.27, 2.04], [1.44, 1.98], [0.51, 1.98], [1.18, 1.57]];
const dSdSB: P[] = [[0.18, 1.22], [0.33, 1.06], [0.11, 0.53], [0.29, 0.46], [0.48, 0.49], [0.53, 0.78], [0.68, 0.12], [0.77, 0.12], [1.07, -0.14], [1.09, -0.2], [1.25, -0.2], [1.4, -0.45], [1.59, -0.17], [0.77, 1.38], [0.72, 0.84]];

const dUbIR: P[] = [[0.26, -0.05], [0.33, 0.165], [0.35, -0.3], [0.43, -0.33], [0.55, -0.34], [0.76, -0.31], [0.86, -0.14], [0.98, 0.15], [1.01, -0.09], [1.03, -0.49], [1.26, -0.28], [1.31, -0.12], [1.41, -0.18], [1.61, 0.175], [1.61, -0.55], [1.74, -0.27], [1.87, -0.03], [1.97, -0.21], [2.09, -0.28], [2.25, 0.3], [2.32, 0.0], [2.38, -0.62], [2.41, -0.02], [2.53, -0.24], [2.69, -0.12], [2.81, 0.06], [2.9, 0.24], [2.91, -0.17], [3.05, -0.33]];
const dUbIIB: P[] = [[0.04, -0.358], [0.17, -0.214], [0.19, -0.553], [0.25, -0.45], [0.47, -0.44], [0.63, -0.42], [0.79, -0.553], [0.88, -0.5], [0.94, -0.563], [1.0, -0.594], [1.06, -0.296], [1.15, -0.604], [1.26, -0.368], [1.38, -0.614], [1.46, -0.645], [1.5, -0.778], [1.59, -0.337], [0.33, -0.153], [0.72, -0.214], [0.03, -0.358], [0.18, -0.553], [0.26, -0.45], [0.54, -0.44], [0.66, -0.522], [0.78, -0.614], [0.9, -0.563], [1.01, -0.594], [1.13, -0.614], [1.26, -0.573], [1.38, -0.6]];
const dUbIIBR: P[] = [[0.05, 0.02], [0.11, -0.03], [0.17, 0.093], [0.19, -0.327], [0.25, -0.163], [0.32, -0.255], [0.36, 0.063], [0.45, -0.1], [0.47, -0.337], [0.56, -0.05], [0.59, -0.635], [0.67, -0.112], [0.71, -0.583], [0.78, -0.05], [0.82, -0.368], [0.91, -0.4], [0.94, -0.727], [1.02, -0.44], [1.08, -0.09], [1.15, -0.143], [1.23, -0.05], [1.27, -0.563], [1.31, 0.0], [1.42, -0.03], [1.47, -0.21], [1.51, 0.134], [1.53, 0.36], [1.54, 0.02], [1.49, -0.286], [0.31, -0.04], [0.6, -0.49], [0.99, -0.594],
  [0.16, 0.093], [0.12, -0.009], [0.16, 0.032], [0.08, -0.09], [0.26, -0.09], [0.33, -0.09], [0.38, -0.054], [0.47, -0.04], [0.54, -0.132], [0.59, -0.09], [0.7, -0.173], [0.78, -0.05], [0.82, -0.122], [0.86, -0.194], [0.95, -0.132], [1.07, -0.09], [1.12, -0.05], [1.18, -0.08], [1.24, -0.05], [1.29, 0.022], [1.34, -0.05], [1.38, 0.001], [1.44, 0.063], [1.53, 0.134], [0.3, -0.388], [0.51, -0.563], [0.59, -0.5], [0.83, -0.43], [0.7, -0.522], [1.09, -0.46], [1.29, -0.532], [0.24, -0.635], [1.04, -0.686]];
const dUbIIBF: P[] = [[0.25, 0.145], [0.76, 0.073], [0.09, -0.204], [0.19, -0.163], [0.41, -0.337], [0.7, -0.337], [1.02, -0.553], [1.17, -0.47], [1.2, -0.44], [1.26, 0.032], [1.55, -0.389], [0.57, -0.255]];
const dUbIIFR: P[] = [[0.09, -0.4], [0.28, -0.389], [0.44, -0.563], [0.61, -0.348], [0.8, -0.389], [0.96, -0.379], [1.11, -0.173], [1.35, -0.399], [1.41, 0.022], [1.48, -0.45], [1.57, -0.327], [0.22, -0.214]];
const dUbIIR: P[] = [[0.12, -0.03], [0.14, -0.454], [0.36, 0.011], [0.42, -0.46], [0.49, 0.022], [0.57, -0.02], [0.7, -0.09], [0.81, 0.073], [0.81, -0.317], [0.99, 0.052], [1.05, 0.083], [1.1, -0.112], [1.23, -0.255], [1.29, 0.083], [1.36, -0.07], [1.49, 0.278], [1.53, 0.124], [1.51, -0.296], [0.36, -0.317]];
const dUbIIF: P[] = [[0.2, -0.163], [0.2, -0.676], [0.57, 0.073], [0.59, -0.03], [0.6, -0.655], [0.83, -0.03], [0.99, -0.645], [1.31, -0.05], [1.33, -0.337], [1.4, -0.645], [1.51, -0.276], [1.16, -0.286]];
const dUbSI: P[] = [[0.01, -0.317], [0.11, -0.42], [0.14, -0.707], [0.16, -0.645], [0.33, -0.368], [0.37, -0.625], [0.51, -0.255], [0.6, -0.368], [0.74, -0.235], [0.85, -0.553], [1.01, -0.225], [1.07, 0.022], [1.1, -0.49], [1.22, -0.307], [1.36, -0.46], [1.49, -0.317], [1.6, -0.44], [1.25, 0.073]];
const dUbSB: P[] = [[0.16, -0.163], [0.18, -0.122], [0.11, -0.666], [0.14, -0.614], [0.29, -0.655], [0.35, -0.276], [0.48, -0.614], [0.68, 0.032], [0.66, -0.358], [0.83, 0.258], [0.86, 0.073], [0.96, 0.073], [0.85, -0.327], [1.14, 0.165], [1.25, 0.093], [1.35, -0.307], [1.42, 0.145], [1.48, 0.4], [1.51, 0.216], [1.59, -0.07], [1.03, 0.032]];

const dFnIR: P[] = [[2.27, 0.545], [2.6, 0.535], [1.86, 0.46], [2.9, 0.53], [1.08, 0.27]];
const dFnIIB: P[] = [[0.04, 0.124], [0.09, 0.134], [0.17, 0.473], [0.17, 0.0], [0.4, 0.483], [0.64, 0.4], [0.69, 0.052], [0.75, 0.042], [0.84, 0.31], [0.84, -0.03], [0.91, 0.452], [0.92, -0.03], [1.04, 0.186], [1.15, 0.42], [1.2, -0.04], [1.34, 0.38], [1.42, -0.07], [1.49, -0.03], [1.55, -0.03], [0.47, -0.04]];
const dFnIIBR: P[] = [[0.19, 1.098], [0.17, 0.82], [0.13, 0.514], [0.09, 0.41], [0.27, 0.39], [0.16, 0.257], [0.23, 0.216], [0.24, 0.062], [0.25, -0.06], [0.4, 0.647], [0.56, 0.72], [0.48, 0.504], [0.6, 0.073], [0.71, -0.1], [0.8, 0.637], [0.78, 0.021], [0.87, 0.41], [0.88, 0.43], [1.07, 0.41], [1.1, 0.493], [1.2, 0.206], [1.27, 0.0], [1.35, 0.565], [1.39, 0.0], [1.46, 0.462], [1.49, 0.709], [1.54, 0.237], [1.57, 0.565], [1.59, 0.82], [0.55, -0.02], [0.35, 0.175], [0.94, 0.155]];
const dFnIIBF: P[] = [[0.11, 0.514], [0.07, 0.268], [0.33, 0.124], [0.44, 0.124], [0.57, 0.247], [0.68, 0.062], [0.8, 0.268], [0.81, 0.011], [0.96, -0.01], [1.02, 0.227], [1.05, -0.02], [1.2, 0.021], [1.24, 0.309], [1.3, 0.042], [1.42, 0.103], [1.48, 0.319], [1.55, 0.0]];
const dFnIIR: P[] = [[0.22, 0.36], [0.68, 0.329], [1.53, 0.144], [1.57, 0.43]];
const dFnIIF: P[] = [[0.1, 0.021], [0.14, 0.309], [0.29, 0.165], [0.38, 0.39], [0.51, 0.011], [0.72, 0.124], [0.9, 0.073], [1.12, 0.021], [1.33, 0.052], [1.4, 0.514], [1.51, 0.134]];
const dFnSI: P[] = [[0.76, 1.084], [0.93, 1.12], [0.58, 0.831], [0.61, 0.852], [0.7, 0.723], [0.87, 0.8], [0.91, 0.81], [1.09, 0.739], [1.12, 0.862], [1.32, 0.8], [1.43, 0.99], [1.52, 0.944], [0.11, 0.452], [0.36, 0.503], [0.4, 0.462], [0.5, 0.35], [0.85, 0.32], [1.19, 0.34], [1.53, 0.32], [1.53, 0.3], [0.51, 0.175], [1.15, -0.01], [0.69, -0.09], [1.09, 1.19], [1.27, 1.18]];
const dFnSB: P[] = [[0.4, 0.468], [0.41, 0.42], [0.61, 0.42], [0.68, 0.842], [0.81, 0.739], [0.84, 0.514], [0.95, 0.807], [1.07, 0.879], [1.13, 0.821], [1.21, 1.088], [1.29, 0.862], [1.36, 0.883], [1.4, 1.149], [1.48, 1.149], [1.58, 0.667], [1.35, 0.719], [1.23, 1.19]];

// typical error bars: [col, row, x, y, err, colour]
const errMarks: [number, number, number, number, number, string][] = [
  [0, 0, 0.25, 26.0, 0.5, RED], [1, 0, 0.0, 26.0, 0.15, NAVY], [1, 0, 0.27, 26.0, 0.15, MAG],
  [2, 0, 0.0, 26.0, 0.2, PURPLE], [2, 0, 0.25, 26.0, 0.4, ORANGE], [3, 0, 0.0, 26.0, 0.25, RED],
  [3, 0, 0.25, 26.0, 0.15, CYAN], [4, 0, 0.0, 26.0, 0.6, GREEN], [4, 0, 0.25, 26.0, 0.25, BLUE],
  [0, 1, 2.5, 0.9, 0.045, RED], [1, 1, 0.75, 0.9, 0.02, NAVY], [1, 1, 1.25, 0.9, 0.03, MAG],
  [2, 1, 0.75, 0.9, 0.02, PURPLE], [2, 1, 1.25, 0.9, 0.025, ORANGE], [3, 1, 0.75, 0.9, 0.03, RED],
  [3, 1, 1.25, 0.9, 0.045, CYAN], [4, 1, 1.26, 0.9, 0.06, GREEN], [4, 1, 1.51, 0.9, 0.03, BLUE],
  [0, 2, 2.5, 2.5, 0.2, RED], [1, 2, 0.75, 2.5, 0.1, NAVY], [1, 2, 1.25, 2.5, 0.1, MAG],
  [2, 2, 0.75, 2.5, 0.12, PURPLE], [2, 2, 1.25, 2.5, 0.35, ORANGE], [3, 2, 0.75, 2.5, 0.15, RED],
  [3, 2, 1.25, 2.5, 0.15, CYAN], [4, 2, 1.26, 2.5, 0.3, GREEN], [4, 2, 1.51, 2.5, 0.25, BLUE],
  [0, 3, 2.5, 0.3, 0.07, RED], [1, 3, 0.75, 0.3, 0.02, NAVY], [1, 3, 1.25, 0.3, 0.04, MAG],
  [2, 3, 0.75, 0.3, 0.13, PURPLE], [2, 3, 1.25, 0.3, 0.03, ORANGE], [3, 3, 0.75, 0.3, 0.03, RED],
  [3, 3, 1.25, 0.3, 0.1, CYAN], [4, 3, 0.0, 0.3, 0.1, GREEN], [4, 3, 0.25, 0.3, 0.05, BLUE],
  [0, 4, 2.5, 1.0, 0, RED], [1, 4, 0.75, 1.0, 0.09, NAVY], [1, 4, 1.25, 1.0, 0.05, MAG],
  [2, 4, 0.75, 1.0, 0.06, PURPLE], [3, 4, 0.75, 1.0, 0.08, RED], [3, 4, 1.25, 1.0, 0.12, CYAN],
  [4, 4, 0.0, 1.01, 0.13, GREEN], [4, 4, 0.25, 1.01, 0.13, BLUE],
];

// sample sizes: [col, row, x, y, text, colour]
const countLabels: [number, number, number, number, string, string][] = [
  [0, 0, 0.25, 27.0, '8', RED], [0, 0, 0.56, 27.0, '9', GOLD],
  [1, 0, 0.02, 27.0, '16', NAVY], [1, 0, 0.27, 27.0, '13', MAG], [1, 0, 0.51, 27.0, '39', GOLD],
  [2, 0, 0.0, 27.0, '7', PURPLE], [2, 0, 0.25, 27.0, '7', ORANGE], [2, 0, 0.5, 27.0, '39', GOLD],
  [3, 0, 0.02, 27.0, '18', RED], [3, 0, 0.26, 27.0, '12', CYAN], [3, 0, 0.5, 27.0, '39', GOLD],
  [4, 0, 0.0, 27.0, '5', GREEN], [4, 0, 0.25, 27.0, '10', BLUE], [4, 0, 0.5, 27.0, '21', GOLD],
  [0, 3, 2.5, 0.145, '8', RED], [1, 3, 0.75, 0.145, '12', NAVY], [1, 3, 1.25, 0.145, '33', MAG],
  [2, 3, 0.75, 0.145, '4', PURPLE], [2, 3, 1.25, 0.145, '5', ORANGE], [3, 3, 0.75, 0.145, '13', RED],
  [3, 3, 1.25, 0.145, '5', CYAN], [4, 3, 0.0, 0.09, '4', GREEN], [4, 3, 0.26, 0.09, '10', BLUE],
  [0, 4, 2.5, 0.85, '1', RED], [1, 4, 0.75, 0.85, '5', NAVY], [1, 4, 1.25, 0.85, '21', MAG],
  [2, 4, 0.75, 0.85, '3', PURPLE], [3, 4, 0.75, 0.85, '2', RED], [3, 4, 1.25, 0.85, '2', CYAN],
  [4, 4, 0.0, 0.8, '6', GREEN], [4, 4, 0.25, 0.8, '5', BLUE],
];

const headTitles = ['BTP08 Type I spirals', 'BTP08 Type II spirals', 'BTP08 Type II spirals', 'BTP08 Type II spirals', 'BTP08 Type III spirals'];
const headTitleW = [164, 168, 170, 170, 176];
const headLines: [string, string, number][][] = [
  [['IR: continuous red trend', RED, 198]],
  [['IIB: continuous blue trend', NAVY, 203], ['IIBR: blue trend then red', MAG, 203]],
  [['IIBF: blue trend then flat', PURPLE, 204], ['IIFR: flat then red trend', ORANGE, 198]],
  [['IIR: continuous red trend', RED, 205], ['IIF: continuous flat trend', CYAN, 205]],
  [['SI: III dim with S shape', GREEN, 191], ['SB: III BCD with S shape', BLUE, 197], ['S = curved red then flat', '#000', 202]],
];
const typeLabels = ['TYPE I', 'TYPE II', 'TYPE II', 'TYPE II', 'TYPE III'];

interface Band { color: string; y: number[]; fit: P[] | null; dots: P[] }
interface Gold { y: number[]; fit: P[] }
interface PanelCfg { gold: Gold | null; bands: Band[] }

const b = (color: string, y: number[], fit: P[] | null, dots: P[]): Band => ({ color, y, fit, dots });

const panels: PanelCfg[][] = [
  [
    { gold: { y: muGoldI, fit: fitMuGoldI }, bands: [b(RED, muIR, fitMuIR, dMuIR)] },
    { gold: { y: muGoldII, fit: fitMuGoldII }, bands: [b(NAVY, muIIB, fitMuIIB, dMuIIB), b(MAG, muIIBR, fitMuIIBR, dMuIIBR)] },
    { gold: { y: muGoldII, fit: fitMuGoldII }, bands: [b(PURPLE, muIIBF, fitMuIIBF, dMuIIBF), b(ORANGE, muIIFR, fitMuIIFR, dMuIIFR)] },
    { gold: { y: muGoldII, fit: fitMuGoldII }, bands: [b(RED, muIIR, fitMuIIR, dMuIIR), b(CYAN, muIIF, fitMuIIF, dMuIIF)] },
    { gold: { y: muGoldIII, fit: fitMuGoldIII }, bands: [b(GREEN, muSI, fitMuSI, dMuSI), b(BLUE, muSB, fitMuSB, dMuSB)] },
  ],
  [
    { gold: { y: bvGoldI, fit: fitBvGoldI }, bands: [b(RED, bvIR, fitBvIR, dBvIR)] },
    { gold: { y: bvGoldII, fit: fitBvGoldII }, bands: [b(NAVY, bvIIB, fitBvIIB, dBvIIB), b(MAG, bvIIBR, fitBvIIBR, dBvIIBR)] },
    { gold: { y: bvGoldII, fit: fitBvGoldII }, bands: [b(PURPLE, bvIIBF, fitBvIIBF, dBvIIBF), b(ORANGE, bvIIFR, fitBvIIFR, dBvIIFR)] },
    { gold: { y: bvGoldII, fit: fitBvGoldII }, bands: [b(RED, bvIIR, fitBvIIR, dBvIIR), b(CYAN, bvIIF, fitBvIIF, dBvIIF)] },
    { gold: { y: bvGoldIII, fit: fitBvGoldIII }, bands: [b(GREEN, bvSI, fitBvSI, dBvSI), b(BLUE, bvSB, fitBvSB, dBvSB)] },
  ],
  [
    { gold: { y: sdGoldI, fit: fitSdGoldI }, bands: [b(RED, sdIR, fitSdIR, dSdIR)] },
    { gold: { y: sdGoldII, fit: fitSdGoldII }, bands: [b(NAVY, sdIIB, fitSdIIB, dSdIIB), b(MAG, sdIIBR, fitSdIIBR, dSdIIBR)] },
    { gold: { y: sdGoldII, fit: fitSdGoldII }, bands: [b(PURPLE, sdIIBF, fitSdIIBF, dSdIIBF), b(ORANGE, sdIIFR, fitSdIIFR, dSdIIFR)] },
    { gold: { y: sdGoldII, fit: fitSdGoldII }, bands: [b(RED, sdIIR, fitSdIIR, dSdIIR), b(CYAN, sdIIF, fitSdIIF, dSdIIF)] },
    { gold: { y: sdGoldIII, fit: fitSdGoldIII }, bands: [b(GREEN, sdSI, fitSdSI, dSdSI), b(BLUE, sdSB, fitSdSB, dSdSB)] },
  ],
  [
    { gold: null, bands: [b(RED, ubIR, fitUbIR, dUbIR)] },
    { gold: null, bands: [b(NAVY, ubIIB, fitUbIIB, dUbIIB), b(MAG, ubIIBR, fitUbIIBR, dUbIIBR)] },
    { gold: null, bands: [b(PURPLE, ubIIBF, fitUbIIBF, dUbIIBF), b(ORANGE, ubIIFR, fitUbIIFR, dUbIIFR)] },
    { gold: null, bands: [b(RED, ubIIR, fitUbIIR, dUbIIR), b(CYAN, ubIIF, fitUbIIF, dUbIIF)] },
    { gold: null, bands: [b(GREEN, ubSI, fitUbSI, dUbSI), b(BLUE, ubSB, fitUbSB, dUbSB)] },
  ],
  [
    { gold: null, bands: [b(RED, fnIR, null, dFnIR)] },
    { gold: null, bands: [b(NAVY, fnIIB, fitFnIIB, dFnIIB), b(MAG, fnIIBR, fitFnIIBR, dFnIIBR)] },
    { gold: null, bands: [b(PURPLE, fnIIBF, fitFnIIBF, dFnIIBF)] },
    { gold: null, bands: [b(RED, fnIIR, fitFnIIR, dFnIIR), b(CYAN, fnIIF, fitFnIIF, dFnIIF)] },
    { gold: null, bands: [b(GREEN, fnSI, fitFnSI, dFnSI), b(BLUE, fnSB, fitFnSB, dFnSB)] },
  ],
];

const fmt = (v: number) => (v < 0 ? '\u2212' : '') + String(Math.abs(v));

function steps(dom: [number, number], step: number): number[] {
  const lo = Math.min(dom[0], dom[1]);
  const hi = Math.max(dom[0], dom[1]);
  const out: number[] = [];
  for (let k = Math.ceil(lo / step - 1e-9); k * step <= hi + 1e-9; k++) out.push(+(k * step).toFixed(4));
  return out;
}

function Panel({ r, c }: { r: number; c: number }) {
  const cfg = panels[r][c];
  const x0 = colX[c], x1 = colX[c + 1], y0 = rowY[r], y1 = rowY[r + 1];
  const xDom = c === 0 ? xDomI : xDomII;
  const xs = d3.scaleLinear().domain(xDom).range([x0, x1]);
  const ys = d3.scaleLinear().domain(yDoms[r]).range([y1, y0]);
  const line = d3.line<P>().x(d => xs(d[0])).y(d => ys(d[1]));
  const bandGrid = c === 0 ? gridI : gridII;
  const goldGrid = c === 0 ? gridGoldI : gridGold;
  const rad = c === 4 ? 4.7 : 4.4;
  const under = c === 0 ? 9 : 6;
  const zip = (g: number[], v: number[]): P[] => v.slice(0, g.length).map((y, i) => [g[i], y] as P);
  const xMaj = c === 0 ? xTicksI : xTicksII;
  const xMin = steps(xDom, c === 0 ? 0.5 : 0.25).filter(v => !xMaj.includes(v));
  const yMaj = yTickVals[r];
  const yMin = steps(yDoms[r], yMinorStep[r]).filter(v => !yMaj.some(m => Math.abs(m - v) < 1e-6));
  const id = `clip${r}${c}`;
  const errs = errMarks.filter(e => e[0] === c && e[1] === r);
  const labs = countLabels.filter(e => e[0] === c && e[1] === r);
  const ML = 14, mL = 7;
  const tick = (k: string, xa: number, ya: number, xb: number, yb: number) => (
    <line key={k} x1={xa} y1={ya} x2={xb} y2={yb} stroke="#000" strokeWidth={2} />
  );
  return (
    <g>
      <defs>
        <clipPath id={id}>
          <rect x={x0} y={y0} width={x1 - x0} height={y1 - y0} />
        </clipPath>
      </defs>
      <g clipPath={`url(#${id})`}>
        {c > 0 && (
          <line x1={xs(1)} x2={xs(1)} y1={y0} y2={y1} stroke={c === 1 ? '#888' : '#222'}
            strokeWidth={c === 1 ? 1.4 : 1} strokeDasharray="5 4" />
        )}
        {cfg.bands.map((bd, i) => (
          <g key={'d' + i}>
            {bd.dots.map((d, j) => <circle key={j} cx={xs(d[0])} cy={ys(d[1])} r={1.9} fill={bd.color} />)}
          </g>
        ))}
        {cfg.bands.map((bd, i) => {
          const pts = zip(bandGrid, bd.y);
          return (
            <g key={'b' + i}>
              <path d={line(pts) || ''} fill="none" stroke={bd.color} strokeWidth={under} strokeLinecap="round" />
              {pts.map((p, j) => (
                <circle key={j} cx={xs(p[0])} cy={ys(p[1])} r={rad} fill="none" stroke={bd.color} strokeWidth={1.7} />
              ))}
            </g>
          );
        })}
        {cfg.gold && (() => {
          const pts = zip(goldGrid, cfg.gold!.y);
          return (
            <g>
              <path d={line(pts) || ''} fill="none" stroke={GOLD} strokeWidth={1.6} />
              {pts.map((p, j) => (
                <circle key={j} cx={xs(p[0])} cy={ys(p[1])} r={4.4} fill="none" stroke={GOLD} strokeWidth={1.9} />
              ))}
            </g>
          );
        })()}
        {cfg.bands.map((bd, i) => bd.fit && (
          <path key={'f' + i} d={line(bd.fit) || ''} fill="none" stroke="#000" strokeWidth={2.6} />
        ))}
        {cfg.gold && <path d={line(cfg.gold.fit) || ''} fill="none" stroke="#000" strokeWidth={2.4} />}
        {errs.map((e, i) => {
          const cx = xs(e[2]);
          const ya = ys(e[3] - e[4]), yb = ys(e[3] + e[4]);
          return (
            <g key={'e' + i} stroke={e[5]} strokeWidth={1.8} fill="none">
              {e[4] > 0 && <line x1={cx} x2={cx} y1={ya} y2={yb} />}
              {e[4] > 0 && <line x1={cx - 3} x2={cx + 3} y1={ya} y2={ya} />}
              {e[4] > 0 && <line x1={cx - 3} x2={cx + 3} y1={yb} y2={yb} />}
              <circle cx={cx} cy={ys(e[3])} r={3.8} fill="#fff" />
            </g>
          );
        })}
      </g>
      {labs.map((l, i) => (
        <text key={'l' + i} x={xs(l[2])} y={ys(l[3])} dy="0.36em" textAnchor="middle" fill={l[5]}
          fontFamily="'Liberation Sans', Arial, sans-serif" fontWeight="bold" fontSize={20}>{l[4]}</text>
      ))}
      {r === 0 && (
        <text x={c === 0 ? 193 : (x0 + x1) / 2} y={138.5} textAnchor="middle" fontFamily="'Liberation Serif', 'Times New Roman', serif"
          fontSize={26.5} fill="#000" stroke="#000" strokeWidth={0.6}>{typeLabels[c]}</text>
      )}
      {xMaj.map(v => tick('xt' + v, xs(v), y0, xs(v), y0 + ML))}
      {xMaj.map(v => tick('xb' + v, xs(v), y1, xs(v), y1 - ML))}
      {xMin.map(v => tick('mt' + v, xs(v), y0, xs(v), y0 + mL))}
      {xMin.map(v => tick('mb' + v, xs(v), y1, xs(v), y1 - mL))}
      {yMaj.map(v => tick('yl' + v, x0, ys(v), x0 + ML, ys(v)))}
      {yMaj.map(v => tick('yr' + v, x1, ys(v), x1 - ML, ys(v)))}
      {yMin.map(v => tick('nl' + v, x0, ys(v), x0 + mL, ys(v)))}
      {yMin.map(v => tick('nr' + v, x1, ys(v), x1 - mL, ys(v)))}
      <rect x={x0} y={y0} width={x1 - x0} height={y1 - y0} fill="none" stroke="#000" strokeWidth={2.6} />
      {c === 0 && yMaj.map(v => (
        <text key={'lt' + v} x={79} y={ys(v)} dy="0.36em" textAnchor="end" fontSize={20} fontWeight="bold">{fmt(v)}</text>
      ))}
      {c === 4 && yMaj.map(v => (
        <text key={'rt' + v} x={1166} y={ys(v)} dy="0.36em" textAnchor="start" fontSize={20} fontWeight="bold">{fmt(v)}</text>
      ))}
      {r === 4 && xMaj.map(v => (
        <text key={'bt' + v} x={xs(v)} y={1183} textAnchor="middle" fontSize={20} fontWeight="bold">{fmt(v)}</text>
      ))}
    </g>
  );
}

const rowMid = (r: number) => (rowY[r] + rowY[r + 1]) / 2;

export default function App() {
  const rows = [0, 1, 2, 3, 4];
  const cols = [0, 1, 2, 3, 4];
  return (
    <svg width={W} height={H} style={{ position: 'absolute', left: 0, top: 0, background: '#fff' }}
      fontFamily="'DejaVu Sans', sans-serif">
      <rect x={0} y={0} width={W} height={H} fill="#fff" />
      {cols.map(c => {
        const cx = (colX[c] + colX[c + 1]) / 2;
        return (
          <g key={'h' + c} fontFamily="'DejaVu Sans', sans-serif" fontWeight="bold" fontSize={13}>
            <rect x={colX[c]} y={HEAD_TOP} width={colX[c + 1] - colX[c]} height={rowY[0] - HEAD_TOP}
              fill="none" stroke="#000" strokeWidth={2.6} />
            <text x={cx} y={25.5} textAnchor="middle" fill={GOLD} textLength={headTitleW[c]}
              lengthAdjust="spacingAndGlyphs">{headTitles[c]}</text>
            {headLines[c].map(([s, col, w], i) => (
              <text key={i} x={cx} y={47 + i * 20} textAnchor="middle" fill={col} textLength={w}
                lengthAdjust="spacingAndGlyphs">{s}</text>
            ))}
          </g>
        );
      })}
      {rows.map(r => cols.map(c => <Panel key={`${r}-${c}`} r={r} c={c} />))}
      <g fontWeight="bold" fontSize={24} textAnchor="middle">
        <text transform={`translate(37,${rowMid(0)}) rotate(-90)`}>
          <tspan fontStyle="italic">μ</tspan>
          <tspan fontSize={15} dy={5}>V</tspan>
          <tspan dy={-5}>[mag/arcsec</tspan>
          <tspan fontSize={15} dy={-10}>2</tspan>
          <tspan dy={10}>]</tspan>
        </text>
        <text transform={`translate(37,${rowMid(1)}) rotate(-90)`}>B-V</text>
        <text transform={`translate(37,${rowMid(2)}) rotate(-90)`}>
          <tspan>log</tspan>
          <tspan fontSize={15} dy={5}>10</tspan>
          <tspan dy={-5}>Σ [M</tspan>
          <tspan fontSize={15} dy={5}>⊙</tspan>
          <tspan dy={-5}>/pc</tspan>
          <tspan fontSize={15} dy={-10}>2</tspan>
          <tspan dy={10}>]</tspan>
        </text>
        <text transform={`translate(37,${rowMid(3)}) rotate(-90)`}>U-B</text>
        <text transform={`translate(37,${rowMid(4)}) rotate(-90)`}>FUV-NUV</text>
        {cols.map(c => (
          <text key={'xl' + c} x={(colX[c] + colX[c + 1]) / 2} y={1213}>
            {c === 0 ? 'Radius/h' : 'Radius/R'}
            <tspan fontSize={14} dy={5}>{c === 0 ? 'R' : 'br'}</tspan>
          </text>
        ))}
      </g>
    </svg>
  );
}
